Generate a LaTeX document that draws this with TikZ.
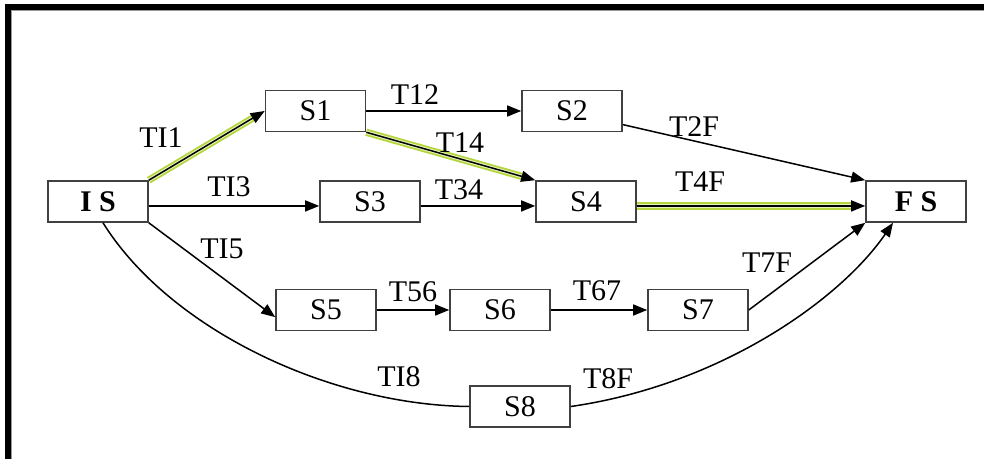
\documentclass[tikz,border=0pt]{standalone}
\usepackage{fontspec}
\setmainfont{Liberation Serif}
\usepackage{tikz}
\usetikzlibrary{arrows.meta}
\definecolor{hlgreen}{RGB}{180,214,60}
\tikzset{
  stbox/.style={
    draw=black!75, line width=0.8pt, fill=white,
    minimum width=50pt, minimum height=20.5pt, inner sep=0pt,
    font=\fontsize{15}{15}\selectfont,
  },
  tr/.style={draw=black, line width=0.75pt, -{Triangle[length=7pt, width=5.5pt]}},
  trplain/.style={draw=black, line width=0.75pt},
  hl/.style={
    preaction={draw=hlgreen, line width=3.6pt, -, shorten >=6pt},
    preaction={draw=hlgreen!35, line width=1.8pt, -, shorten >=6pt},
  },
  trlbl/.style={font=\fontsize{15}{15}\selectfont, inner sep=0pt},
}
\begin{document}
\begin{tikzpicture}[x=0.5pt, y=-0.5pt]
\useasboundingbox (0,0) rectangle (984,459);

% frame
\draw[line width=3pt] (7.5,459) -- (7.5,7) -- (984,7);
\draw[black!40, line width=0.5pt] (11,459) -- (11,10.5) -- (984,10.5);

% states
\node[stbox, font=\fontsize{15}{15}\selectfont\bfseries] (IS) at (98,201.5) {I S};
\node[stbox] (S1) at (315.5,111) {S1};
\node[stbox] (S2) at (572,111) {S2};
\node[stbox] (S3) at (370,201.5) {S3};
\node[stbox] (S4) at (586,201.5) {S4};
\node[stbox, font=\fontsize{15}{15}\selectfont\bfseries] (FS) at (916,201.5) {F S};
\node[stbox] (S5) at (326,310) {S5};
\node[stbox] (S6) at (500,310) {S6};
\node[stbox] (S7) at (698,310) {S7};
\node[stbox] (S8) at (520,406.5) {S8};

% transitions
\draw[tr, hl] (IS.north east) -- (S1.west);
\draw[tr] (S1.east) -- (S2.west);
\draw[tr, hl] (S1.south east) -- (S4.north west);
\draw[tr] (IS.-5) -- (S3.185);
\draw[tr] (S3.-5) -- (S4.185);
\draw[tr] (S2.-15) -- (FS.north west);
\draw[tr, hl] (S4.-5) -- (FS.185);
\draw[tr] (IS.south east) -- (S5.188);
\draw[tr] (S5.east) -- (S6.west);
\draw[tr] (S6.east) -- (S7.west);
\draw[tr] (S7.east) -- (FS.south west);
\draw[trplain] ([xshift=2.5pt]IS.south) .. controls (170,330) and (330,405) .. (S8.west);
\draw[tr] (S8.east) .. controls (720,385) and (840,300) .. ([xshift=-11.5pt]FS.south);

% labels
\node[trlbl] (lTI1) at (161,138) {TI1};
\node[trlbl] (lT12) at (415,95) {T12};
\node[trlbl] (lT14) at (460,143) {T14};
\node[trlbl] (lTI3) at (229,187) {TI3};
\node[trlbl] (lT34) at (459,190) {T34};
\node[trlbl] (lT2F) at (694,127) {T2F};
\node[trlbl] (lT4F) at (700,182) {T4F};
\node[trlbl] (lTI5) at (222,249) {TI5};
\node[trlbl] (lT56) at (413,292) {T56};
\node[trlbl] (lT67) at (597,291) {T67};
\node[trlbl] (lT7F) at (767,263) {T7F};
\node[trlbl] (lTI8) at (399,377) {TI8};
\node[trlbl] (lT8F) at (608,379) {T8F};

\end{tikzpicture}
\end{document}
